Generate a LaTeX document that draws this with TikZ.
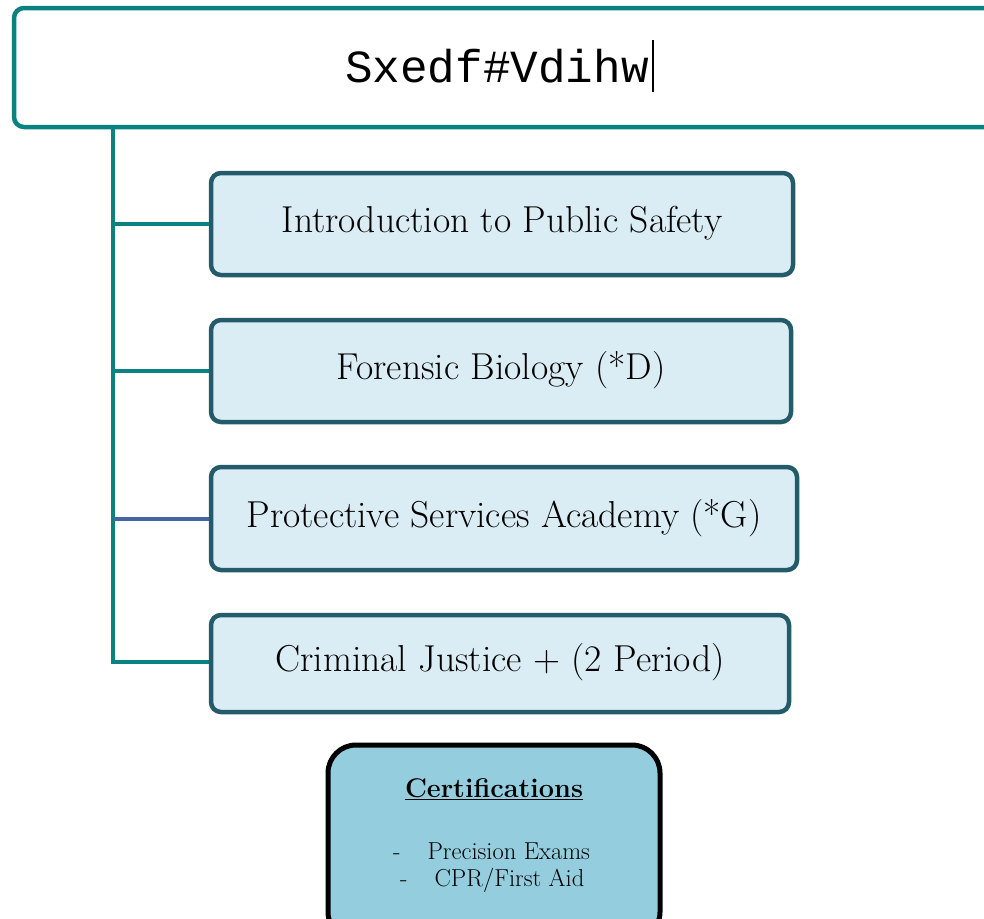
\documentclass[tikz,border=0pt]{standalone}
\usepackage{fontspec}
\newfontfamily\monofont{Liberation Mono}
\begin{document}
\begin{tikzpicture}[x=1pt,y=-1pt,
  teal line/.style={draw=tealc,line width=4pt},
  course/.style={draw=boxborder,fill=boxfill,line width=4.5pt,rounded corners=10pt},
  coursetext/.style={font=\fontsize{37.5}{42}\selectfont,anchor=center}]
\definecolor{tealc}{HTML}{0B8282}
\definecolor{boxborder}{HTML}{235B6A}
\definecolor{boxfill}{HTML}{DBEDF4}
\definecolor{bluebranch}{HTML}{4565A0}
\definecolor{certfill}{HTML}{93CDDE}
\useasboundingbox (0,0) rectangle (984,918);
\clip (0,0) rectangle (984,918);
% title box
\draw[draw=tealc,fill=white,line width=4.5pt,rounded corners=10pt] (14,8) rectangle (1010,127);
\node (title) at (497,66) {\monofont\fontsize{46}{52}\selectfont Sxedf\#Vdihw};
\draw[line width=1.6pt] (653,40) -- (653,92);
% spine
\coordinate (top) at (113,127);
\coordinate (b1) at (113,224);
\coordinate (b2) at (113,371);
\coordinate (b3) at (113,519);
\coordinate (b4) at (113,662);
\draw[teal line,line join=miter] (top) -- (b4) -- (211,662);
% boxes
\draw[course] (211,173) rectangle (793,275);
\node[coursetext] (c1) at (502,223) {Introduction to Public Safety};
\draw[course] (211,320) rectangle (791,422);
\node[coursetext] (c2) at (501,370) {Forensic Biology (*D)};
\draw[course] (211,467) rectangle (797,570);
\node[coursetext] (c3) at (504,518) {Protective Services Academy (*G)};
\draw[course] (211,615) rectangle (789,712);
\node[coursetext] (c4) at (500,662) {Criminal Justice + (2 Period)};
\coordinate (e1) at (209,224);
\coordinate (e2) at (209,371);
\coordinate (e3) at (209,519);
\draw[teal line] (b1) -- (e1);
\draw[teal line] (b2) -- (e2);
\draw[draw=bluebranch,line width=4pt] (b3) -- (e3);
% certifications
\draw[draw=black,fill=certfill,line width=5pt,rounded corners=28pt] (328,745) rectangle (660,940);
\node (cert) at (494,789) {\fontsize{27}{30}\selectfont\bfseries\underline{Certifications}};
\node[anchor=west,inner sep=0pt] (l1) at (393,851) {\fontsize{24.5}{28}\selectfont -\hspace{27pt}Precision Exams};
\node[anchor=west,inner sep=0pt] (l2) at (400,880) {\fontsize{24.5}{28}\selectfont -\hspace{27pt}CPR/First Aid};
\end{tikzpicture}
\end{document}
